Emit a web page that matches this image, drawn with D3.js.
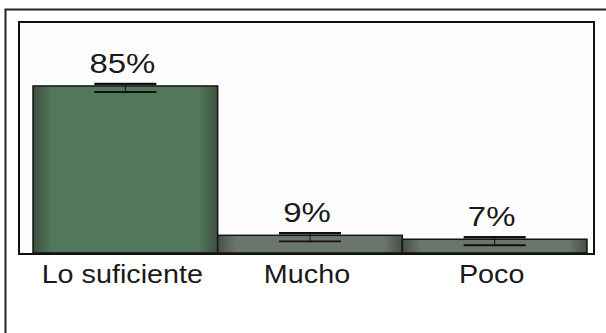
<!DOCTYPE html>
<html>
<head>
<meta charset="utf-8">
<script src="https://cdn.jsdelivr.net/npm/d3@7"></script>
<style>
  html, body { margin: 0; padding: 0; background: #fff; }
  svg { display: block; }
  text { font-family: "Liberation Sans", Arial, Helvetica, sans-serif; fill: #1a1a1a; }
</style>
</head>
<body>
<svg id="chart" width="606" height="333"></svg>
<script>
// Answer shares (percent) per category
const categories = ["Lo suficiente", "Mucho", "Poco"];
const values = [85, 9, 7];
const valueLabels = ["85%", "9%", "7%"];

const W = 606, H = 333;
const svg = d3.select("#chart");

// Outer frame (runs off the right and bottom edges)
svg.append("rect")
  .attr("x", 5.5).attr("y", 9.5)
  .attr("width", W + 10).attr("height", H + 10)
  .attr("fill", "#fff").attr("stroke", "#222").attr("stroke-width", 2);

// Plot frame
const frame = { left: 19, top: 22, right: 594, bottom: 254 };
svg.append("rect")
  .attr("x", frame.left).attr("y", frame.top)
  .attr("width", frame.right - frame.left).attr("height", frame.bottom - frame.top)
  .attr("fill", "#fcfdfc").attr("stroke", "#111").attr("stroke-width", 2);

const x = d3.scaleBand().domain(categories).range([33, 587]).padding(0);
const y = d3.scaleLinear().domain([0, 100]).range([253, 56.5]);

// Bar fills: darker edges, lighter centre
const defs = svg.append("defs");
const fills = [
  { id: "g0", edge: "#3e4f40", mid: "#52775a" },
  { id: "g1", edge: "#454f46", mid: "#6a766b" },
  { id: "g2", edge: "#454f46", mid: "#6a766b" }
];
fills.forEach(f => {
  const g = defs.append("linearGradient").attr("id", f.id)
    .attr("x1", 0).attr("x2", 1).attr("y1", 0).attr("y2", 0);
  g.append("stop").attr("offset", "0%").attr("stop-color", f.edge);
  g.append("stop").attr("offset", "10%").attr("stop-color", f.mid);
  g.append("stop").attr("offset", "90%").attr("stop-color", f.mid);
  g.append("stop").attr("offset", "100%").attr("stop-color", f.edge);
});

const bars = svg.append("g").selectAll("g")
  .data(categories.map((c, i) => ({ c, v: values[i], label: valueLabels[i], i })))
  .join("g");

bars.append("rect")
  .attr("x", d => x(d.c))
  .attr("y", d => y(d.v))
  .attr("width", x.bandwidth())
  .attr("height", d => y(0) - y(d.v))
  .attr("fill", d => `url(#g${d.i})`)
  .attr("stroke", "#151515").attr("stroke-width", 1.5);

// Small error caps around each bar top
const capHalf = 31;
const cx = d => x(d.c) + x.bandwidth() / 2;
bars.append("line")
  .attr("x1", d => cx(d) - capHalf).attr("x2", d => cx(d) + capHalf)
  .attr("y1", d => y(d.v) - 2).attr("y2", d => y(d.v) - 2)
  .attr("stroke", "#111").attr("stroke-width", 2.6);
bars.append("line")
  .attr("x1", d => cx(d) - capHalf).attr("x2", d => cx(d) + capHalf)
  .attr("y1", d => y(d.v) + 6).attr("y2", d => y(d.v) + 6)
  .attr("stroke", "#111").attr("stroke-width", 1.8);
bars.append("line")
  .attr("x1", d => cx(d)).attr("x2", d => cx(d))
  .attr("y1", d => y(d.v) - 2).attr("y2", d => y(d.v) + 6)
  .attr("stroke", "#111").attr("stroke-width", 1);

// Value labels (slightly wide lettering)
bars.append("text")
  .attr("transform", d => `translate(${cx(d) - 3},${y(d.v) - 13}) scale(1.22,1)`)
  .attr("text-anchor", "middle")
  .attr("font-size", 27)
  .text(d => d.label);

// Category axis
const xAxis = d3.axisBottom(x).tickSize(0).tickPadding(0);
const gx = svg.append("g").attr("transform", "translate(-3,283)").call(xAxis);
gx.select(".domain").remove();
gx.selectAll("text")
  .attr("dy", 0)
  .attr("transform", "scale(1.15,1)")
  .attr("x", 0)
  .attr("font-size", 25)
  .style("font-family", "'Liberation Sans', Arial, sans-serif")
  .attr("fill", "#1a1a1a");
</script>
</body>
</html>
